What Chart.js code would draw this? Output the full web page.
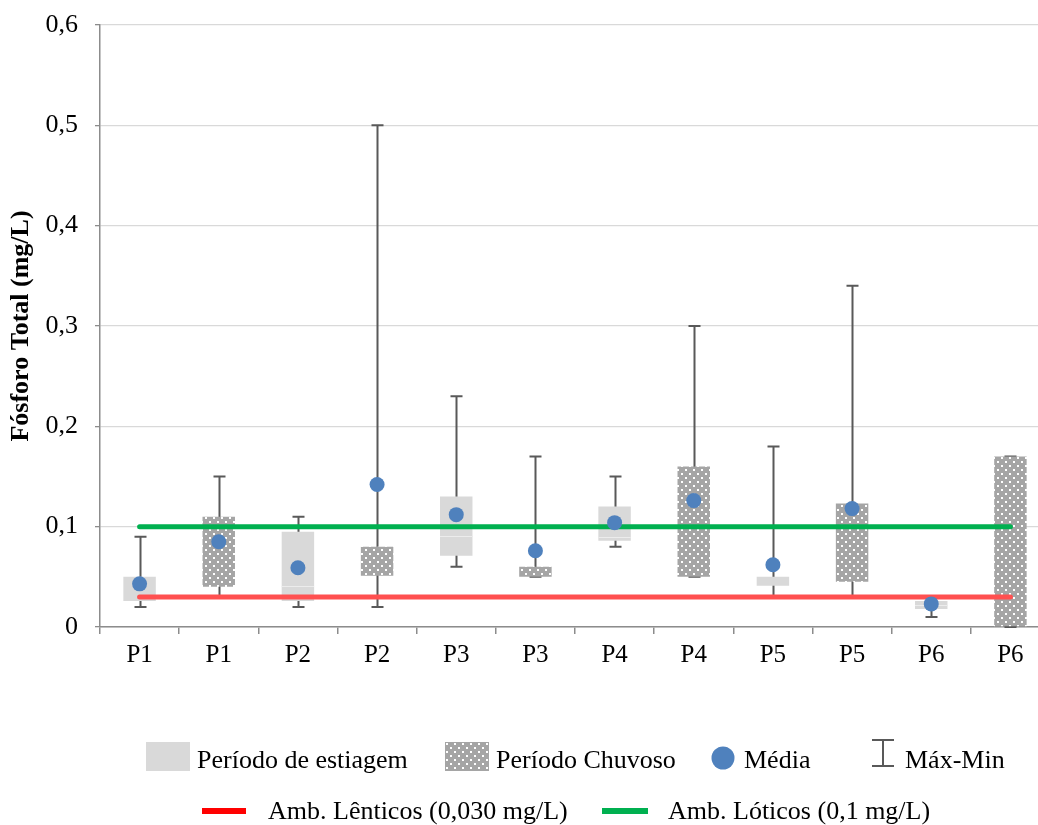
<!DOCTYPE html>
<html>
<head>
<meta charset="utf-8">
<script src="https://cdn.jsdelivr.net/npm/chart.js@4.4.1/dist/chart.umd.min.js"></script>
<style>
  html, body { margin:0; padding:0; background:#fff; overflow:hidden; width:1038px; height:825px; }
  #wrap { position:relative; width:1038px; height:825px; overflow:hidden; }
  canvas#c { position:absolute; left:0; top:0; }
  .lg { position:absolute; font-family:"Liberation Serif","Times New Roman",serif; font-size:26px; color:#000; line-height:30px; white-space:nowrap; }
  .sw { position:absolute; }
</style>
</head>
<body>
<div id="wrap">
  <canvas id="c" width="1060" height="825"></canvas>
  <canvas class="sw" id="swEst" width="44" height="29" style="left:146px;top:742px"></canvas>
  <span class="lg" style="left:197px;top:745px">Período de estiagem</span>
  <canvas class="sw" id="swChu" width="44" height="29" style="left:445px;top:742px"></canvas>
  <span class="lg" style="left:496px;top:745px">Período Chuvoso</span>
  <canvas class="sw" id="swMean" width="26" height="26" style="left:710px;top:745px"></canvas>
  <span class="lg" style="left:744px;top:745px">Média</span>
  <canvas class="sw" id="swErr" width="26" height="30" style="left:870px;top:738px"></canvas>
  <span class="lg" style="left:905px;top:745px">Máx-Min</span>
  <canvas class="sw" id="swRed" width="44" height="8" style="left:202px;top:807px"></canvas>
  <span class="lg" style="left:268px;top:796px">Amb. Lênticos (0,030 mg/L)</span>
  <canvas class="sw" id="swGreen" width="46" height="8" style="left:602px;top:807px"></canvas>
  <span class="lg" style="left:668px;top:796px">Amb. Lóticos (0,1 mg/L)</span>
</div>
<script>
// ---- data ----
const categories = ['P1','P1','P2','P2','P3','P3','P4','P4','P5','P5','P6','P6'];
const period     = ['est','chu','est','chu','est','chu','est','chu','est','chu','est','chu'];
const boxLow     = [0.026, 0.040, 0.026, 0.051, 0.071, 0.050, 0.086, 0.050, 0.041, 0.045, 0.018, 0.000];
const boxHigh    = [0.050, 0.110, 0.095, 0.080, 0.130, 0.060, 0.120, 0.160, 0.050, 0.123, 0.026, 0.170];
const medians    = [null, null, 0.041, null, 0.091, null, 0.090, null, null, null, 0.022, null];
const whiskerMin = [0.020, 0.030, 0.020, 0.020, 0.060, 0.050, 0.080, 0.050, 0.030, 0.030, 0.010, 0.000];
const whiskerMax = [0.090, 0.150, 0.110, 0.500, 0.230, 0.170, 0.150, 0.300, 0.180, 0.340, 0.025, 0.170];
const means      = [0.043, 0.085, 0.059, 0.142, 0.112, 0.076, 0.104, 0.126, 0.062, 0.118, 0.023, null];
const lenticLimit = [0.03, 0.03, 0.03, 0.03, 0.03, 0.03, 0.03, 0.03, 0.03, 0.03, 0.03, 0.03];
const loticLimit  = [0.1, 0.1, 0.1, 0.1, 0.1, 0.1, 0.1, 0.1, 0.1, 0.1, 0.1, 0.1];
const yTickLabels = ['0','0,1','0,2','0,3','0,4','0,5','0,6'];

const FONT = '"Liberation Serif","Times New Roman",serif';
const EST_COLOR = '#d9d9d9';
const CHU_BASE = '#a5a5a5';
const MEAN_COLOR = '#4f81bd';
const ERR_COLOR = '#595959';
const RED = '#ff5050';
const GREEN = '#00b050';

function makePattern(ctx) {
  const p = document.createElement('canvas');
  p.width = 8; p.height = 8;
  const g = p.getContext('2d');
  g.fillStyle = CHU_BASE; g.fillRect(0,0,8,8);
  g.fillStyle = '#ffffff';
  g.fillRect(1,1,2,2);
  g.fillRect(5,5,2,2);
  return ctx.createPattern(p, 'repeat');
}

const ctx = document.getElementById('c').getContext('2d');
const pattern = makePattern(ctx);

const whiskerPlugin = {
  id: 'whiskers',
  beforeDatasetsDraw(chart) {
    const c = chart.ctx, xs = chart.scales.x, ys = chart.scales.y;
    c.save();
    c.strokeStyle = ERR_COLOR; c.lineWidth = 2;
    for (let i = 0; i < categories.length; i++) {
      const x = Math.round(xs.getPixelForValue(i)) + 0.5;
      const y1 = ys.getPixelForValue(whiskerMin[i]);
      const y2 = ys.getPixelForValue(whiskerMax[i]);
      c.beginPath();
      c.moveTo(x, y1); c.lineTo(x, y2);
      c.moveTo(x - 6, y1); c.lineTo(x + 6, y1);
      c.moveTo(x - 6, y2); c.lineTo(x + 6, y2);
      c.stroke();
    }
    c.restore();
  },
  afterDatasetDraw(chart, args) {
    if (args.index !== 0) return;
    const c = chart.ctx, ys = chart.scales.y;
    const meta = chart.getDatasetMeta(0);
    c.save();
    c.strokeStyle = '#ececec'; c.lineWidth = 1;
    for (let i = 0; i < categories.length; i++) {
      if (medians[i] == null) continue;
      const bar = meta.data[i];
      const y = Math.round(ys.getPixelForValue(medians[i])) + 0.5;
      c.beginPath();
      c.moveTo(bar.x - bar.width/2, y); c.lineTo(bar.x + bar.width/2, y);
      c.stroke();
    }
    c.restore();
  }
};

new Chart(ctx, {
  type: 'bar',
  data: {
    labels: categories,
    datasets: [
      {
        label: 'Caixa',
        data: boxLow.map((l, i) => [l, boxHigh[i]]),
        backgroundColor: period.map(p => p === 'est' ? EST_COLOR : pattern),
        borderWidth: 0,
        barPercentage: 0.41,
        categoryPercentage: 1,
        order: 3
      },
      {
        type: 'line', label: 'Amb. Lênticos (0,030 mg/L)', data: lenticLimit,
        borderColor: RED, borderWidth: 5, pointRadius: 0, borderCapStyle: 'round', fill: false, order: 2
      },
      {
        type: 'line', label: 'Amb. Lóticos (0,1 mg/L)', data: loticLimit,
        borderColor: GREEN, borderWidth: 5, pointRadius: 0, borderCapStyle: 'round', fill: false, order: 2
      },
      {
        type: 'line', label: 'Média', data: means, showLine: false,
        pointRadius: 7.5, pointBackgroundColor: MEAN_COLOR, pointBorderWidth: 0, pointStyle: 'circle', order: 1
      }
    ]
  },
  options: {
    responsive: false,
    animation: false,
    events: [],
    layout: { padding: { top: 25, left: 0, right: 10, bottom: 138 } },
    plugins: { legend: { display: false }, tooltip: { enabled: false } },
    scales: {
      x: {
        grid: { drawOnChartArea: false, drawTicks: true, tickLength: 7, tickColor: '#8c8c8c', lineWidth: 1.5, offset: true },
        border: { color: '#8c8c8c', width: 1.5 },
        ticks: { color: '#000', font: { family: FONT, size: 25 }, padding: 6, maxRotation: 0, autoSkip: false },
        afterFit(s) { s.height = 60; s.paddingLeft = 0; s.paddingRight = 0; }
      },
      y: {
        min: 0, max: 0.6,
        grid: { color: '#d9d9d9', lineWidth: 1.3, drawTicks: true, tickLength: 5, tickColor: '#8c8c8c' },
        border: { color: '#8c8c8c', width: 1.5 },
        ticks: {
          stepSize: 0.1, color: '#000', font: { family: FONT, size: 26 }, padding: 17,
          callback: (v, i) => yTickLabels[i]
        },
        title: { display: true, text: 'Fósforo Total (mg/L)', color: '#000', font: { family: FONT, size: 26, weight: 'bold' }, padding: { top: 6, bottom: 0 } },
        afterFit(s) { s.width = 100; s.paddingTop = 0; s.paddingBottom = 0; }
      }
    }
  },
  plugins: [whiskerPlugin]
});

// ---- legend swatches ----
(function(){
  let g = document.getElementById('swEst').getContext('2d');
  g.fillStyle = EST_COLOR; g.fillRect(0,0,44,29);
  g = document.getElementById('swChu').getContext('2d');
  g.fillStyle = makePattern(g); g.fillRect(0,0,44,29);
  g = document.getElementById('swMean').getContext('2d');
  g.fillStyle = MEAN_COLOR; g.beginPath(); g.arc(13,13,11.5,0,Math.PI*2); g.fill();
  g = document.getElementById('swErr').getContext('2d');
  g.strokeStyle = ERR_COLOR; g.lineWidth = 2;
  g.beginPath(); g.moveTo(13,2); g.lineTo(13,28); g.moveTo(2,2); g.lineTo(24,2); g.moveTo(2,28); g.lineTo(24,28); g.stroke();
  g = document.getElementById('swRed').getContext('2d');
  g.fillStyle = '#ff0000'; g.fillRect(0,1,44,6);
  g = document.getElementById('swGreen').getContext('2d');
  g.fillStyle = GREEN; g.fillRect(0,1,46,6);
})();
</script>
</body>
</html>
